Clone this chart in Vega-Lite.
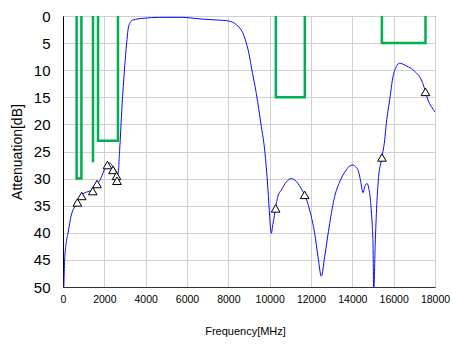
{
  "$schema": "https://vega.github.io/schema/vega-lite/v6.json",
  "autosize": "none",
  "width": 372,
  "height": 271,
  "padding": {"left": 63, "top": 16, "right": 17, "bottom": 58},
  "background": "white",
  "config": {
    "view": {"stroke": "black", "strokeWidth": 1},
    "font": "Liberation Sans",
    "axis": {"labelColor": "black", "titleColor": "black", "titleFontWeight": "normal", "ticks": false, "gridColor": "#d0d0d0", "gridWidth": 1, "labelOverlap": false, "labelFlush": false, "labelBound": false}
  },
  "datasets": {
    "curve": [
      {"f": 40, "a": 50}, {"f": 80, "a": 45}, {"f": 150, "a": 42}, {"f": 242, "a": 40.1}, {"f": 403, "a": 36.7},
      {"f": 565, "a": 35.2}, {"f": 726, "a": 33.9}, {"f": 900, "a": 33.0}, {"f": 1130, "a": 32.5}, {"f": 1300, "a": 32.3},
      {"f": 1450, "a": 32.0}, {"f": 1600, "a": 31.2}, {"f": 1775, "a": 30.4}, {"f": 1935, "a": 29.0}, {"f": 2097, "a": 27.5},
      {"f": 2258, "a": 27.1}, {"f": 2419, "a": 27.8}, {"f": 2581, "a": 28.7}, {"f": 2661, "a": 29.2}, {"f": 2742, "a": 24.7},
      {"f": 2850, "a": 17}, {"f": 2984, "a": 9.4}, {"f": 3080, "a": 5}, {"f": 3145, "a": 2.6}, {"f": 3250, "a": 1.2},
      {"f": 3387, "a": 0.74}, {"f": 3870, "a": 0.43}, {"f": 4678, "a": 0.25}, {"f": 5806, "a": 0.25}, {"f": 6400, "a": 0.45},
      {"f": 6855, "a": 0.6}, {"f": 7500, "a": 0.75}, {"f": 7903, "a": 0.86}, {"f": 8100, "a": 1.0}, {"f": 8306, "a": 1.35},
      {"f": 8500, "a": 2.0}, {"f": 8629, "a": 2.6}, {"f": 8750, "a": 3.6}, {"f": 8871, "a": 5.0}, {"f": 9000, "a": 7},
      {"f": 9113, "a": 9.4}, {"f": 9355, "a": 14.3}, {"f": 9597, "a": 20.4}, {"f": 9758, "a": 24.7}, {"f": 9919, "a": 32.1},
      {"f": 10000, "a": 37}, {"f": 10081, "a": 40.1}, {"f": 10150, "a": 38.5}, {"f": 10194, "a": 37.6}, {"f": 10323, "a": 34.6},
      {"f": 10400, "a": 33.2}, {"f": 10565, "a": 32.1}, {"f": 10806, "a": 30.6}, {"f": 11048, "a": 30.0}, {"f": 11200, "a": 30.2},
      {"f": 11371, "a": 30.9}, {"f": 11550, "a": 32}, {"f": 11693, "a": 33.0}, {"f": 11935, "a": 35.8}, {"f": 12177, "a": 40.1},
      {"f": 12339, "a": 44.4}, {"f": 12500, "a": 48}, {"f": 12661, "a": 44.4}, {"f": 12903, "a": 38.3}, {"f": 13145, "a": 33.3},
      {"f": 13387, "a": 30.6}, {"f": 13710, "a": 28.4}, {"f": 13900, "a": 27.6}, {"f": 14032, "a": 27.5}, {"f": 14150, "a": 27.8},
      {"f": 14274, "a": 28.4}, {"f": 14380, "a": 30}, {"f": 14516, "a": 32.6}, {"f": 14600, "a": 31.5}, {"f": 14710, "a": 30.9},
      {"f": 14806, "a": 32}, {"f": 14900, "a": 35}, {"f": 14960, "a": 38.5}, {"f": 15000, "a": 42}, {"f": 15032, "a": 51},
      {"f": 15113, "a": 41.3}, {"f": 15194, "a": 34}, {"f": 15274, "a": 29.6}, {"f": 15403, "a": 26.6}, {"f": 15565, "a": 22.9},
      {"f": 15645, "a": 19.8}, {"f": 15806, "a": 15.5}, {"f": 15968, "a": 11.2}, {"f": 16129, "a": 9.35}, {"f": 16290, "a": 8.7},
      {"f": 16400, "a": 8.8}, {"f": 16613, "a": 9.2}, {"f": 17016, "a": 10.2}, {"f": 17339, "a": 11.8}, {"f": 17530, "a": 13.8},
      {"f": 17661, "a": 15.5}, {"f": 17823, "a": 16.7}, {"f": 18000, "a": 17.7}
    ],
    "mask": [
      {"seg": 1, "i": 1, "f": 660, "a": 0}, {"seg": 1, "i": 2, "f": 660, "a": 30}, {"seg": 1, "i": 3, "f": 890, "a": 30}, {"seg": 1, "i": 4, "f": 890, "a": 0},
      {"seg": 2, "i": 1, "f": 1450, "a": 0}, {"seg": 2, "i": 2, "f": 1450, "a": 27},
      {"seg": 3, "i": 1, "f": 1695, "a": 0}, {"seg": 3, "i": 2, "f": 1695, "a": 23}, {"seg": 3, "i": 3, "f": 2660, "a": 23}, {"seg": 3, "i": 4, "f": 2660, "a": 0},
      {"seg": 4, "i": 1, "f": 10300, "a": 0}, {"seg": 4, "i": 2, "f": 10300, "a": 15}, {"seg": 4, "i": 3, "f": 11700, "a": 15}, {"seg": 4, "i": 4, "f": 11700, "a": 0},
      {"seg": 5, "i": 1, "f": 15430, "a": 0}, {"seg": 5, "i": 2, "f": 15430, "a": 5}, {"seg": 5, "i": 3, "f": 17540, "a": 5}, {"seg": 5, "i": 4, "f": 17540, "a": 0}
    ],
    "markers": [
      {"f": 695, "a": 34.4}, {"f": 905, "a": 33.2}, {"f": 1440, "a": 32.3}, {"f": 1645, "a": 31.0},
      {"f": 2150, "a": 27.5}, {"f": 2419, "a": 28.4}, {"f": 2590, "a": 29.5}, {"f": 2613, "a": 30.4},
      {"f": 10290, "a": 35.5}, {"f": 11693, "a": 33.0}, {"f": 15433, "a": 26.1}, {"f": 17540, "a": 14.0}
    ]
  },
  "encoding": {
    "x": {
      "field": "f", "type": "quantitative",
      "scale": {"domain": [0, 18000], "nice": false},
      "axis": {
        "values": [0, 2000, 4000, 6000, 8000, 10000, 12000, 14000, 16000, 18000],
        "format": "d", "labelFontSize": 10.5, "labelPadding": 7, "domainColor": "#333333", "labelOverlap": false,
        "title": "Frequency[MHz]", "titleFontSize": 11, "titleX": 182, "titleY": 44, "titleBaseline": "middle", "titleAnchor": "middle"
      }
    },
    "y": {
      "field": "a", "type": "quantitative",
      "scale": {"domain": [0, 50], "nice": false, "reverse": true},
      "axis": {
        "values": [0, 5, 10, 15, 20, 25, 30, 35, 40, 45, 50],
        "labelFontSize": 15, "labelPadding": 13, "domainColor": "black", "labelOverlap": false,
        "title": "Attenuation[dB]", "titleFontSize": 14, "titleX": -46, "titleY": 135.5, "titleBaseline": "middle", "titleAlign": "center", "titleAngle": -90
      }
    }
  },
  "layer": [
    {
      "data": {"name": "curve"},
      "mark": {"type": "line", "color": "#0a0aff", "strokeWidth": 1, "clip": true, "interpolate": "monotone"}
    },
    {
      "data": {"name": "mask"},
      "mark": {"type": "line", "color": "#00b050", "strokeWidth": 2.5, "strokeJoin": "miter", "clip": true},
      "encoding": {
        "detail": {"field": "seg", "type": "nominal"},
        "order": {"field": "i", "type": "quantitative"}
      }
    },
    {
      "data": {"name": "markers"},
      "mark": {"type": "point", "shape": "triangle-up", "size": 75, "filled": true, "fill": "white", "stroke": "black", "strokeWidth": 1, "opacity": 1}
    }
  ]
}
